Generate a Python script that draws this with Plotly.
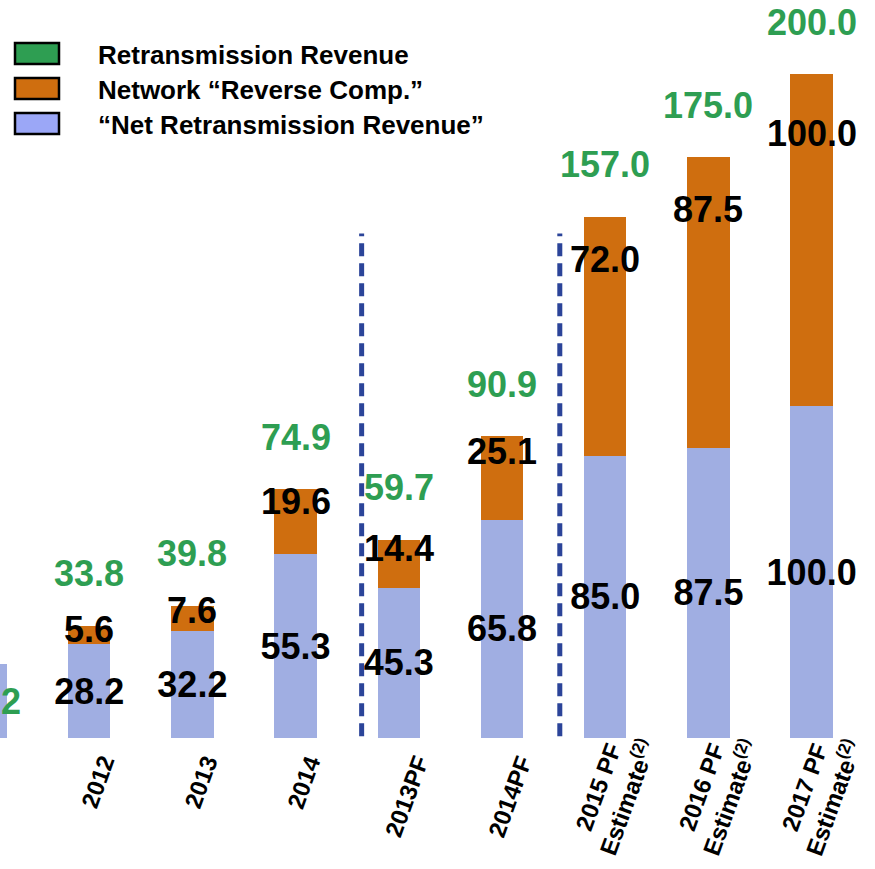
import plotly.graph_objects as go

BLUE = '#A0AEE2'
ORANGE = '#CF6E0F'
GREEN = '#2E9E52'
LEGEND_BLUE = '#9BA7F7'
DIVIDER = '#2B4499'
FONT = 'Liberation Sans, Arial, sans-serif'

years = ['2011', '2012', '2013', '2014', '2013PF', '2014PF',
         '2015 PF<br>Estimate<sup>(2)</sup>',
         '2016 PF<br>Estimate<sup>(2)</sup>',
         '2017 PF<br>Estimate<sup>(2)</sup>']
net_retrans = [22.2, 28.2, 32.2, 55.3, 45.3, 65.8, 85.0, 87.5, 100.0]
reverse_comp = [0.0, 5.6, 7.6, 19.6, 14.4, 25.1, 72.0, 87.5, 100.0]
retrans_total = [None, 33.8, 39.8, 74.9, 59.7, 90.9, 157.0, 175.0, 200.0]

legend_items = [('Retransmission Revenue', GREEN),
                ('Network “Reverse Comp.”', ORANGE),
                ('“Net Retransmission Revenue”', LEGEND_BLUE)]

W, H, PLOT_H = 875, 869, 738
idx = list(range(len(years)))

fig = go.Figure()
fig.add_bar(
    x=idx, y=net_retrans,
    marker_color=BLUE, marker_line_width=0,
    text=[f'{v:.1f}' for v in net_retrans],
    textposition='inside', insidetextanchor='middle', constraintext='none',
    textangle=0,
    textfont=dict(family=FONT, size=36,
                  color=[GREEN] + ['black'] * (len(years) - 1)),
    texttemplate='<b>%{text}</b>',
    showlegend=False,
)
fig.add_bar(
    x=idx, y=reverse_comp,
    marker_color=ORANGE, marker_line_width=0,
    showlegend=False,
)

# reverse comp labels, in the upper part of the orange segment
for i, (b, o) in enumerate(zip(net_retrans, reverse_comp)):
    if o:
        fig.add_annotation(x=i, y=b + 0.82 * o, text=f'<b>{o:.1f}</b>',
                           showarrow=False,
                           font=dict(family=FONT, size=36, color='black'))

# total retransmission labels above bars
for i, t in enumerate(retrans_total):
    if t is not None:
        fig.add_annotation(x=i, y=t, text=f'<b>{t:.1f}</b>', showarrow=False,
                           yshift=52,
                           font=dict(family=FONT, size=36, color=GREEN))

# category labels, rotated and centre aligned
for i, y in enumerate(years):
    two_line = '<br>' in y
    fig.add_annotation(x=i, y=0, text=f'<b>{y}</b>', showarrow=False,
                       textangle=-70, xanchor='center', yanchor='top',
                       xshift=8, yshift=15 if two_line else -12, align='center',
                       font=dict(family=FONT, size=24, color='black'))

# dashed dividers between actual / PF / estimate groups
for xd in (3.64, 5.56):
    fig.add_shape(type='line', xref='x', yref='y', x0=xd, x1=xd, y0=0.5, y1=152,
                  line=dict(color=DIVIDER, width=5, dash='13px,7px'))

# legend drawn by hand to get the large boxes
for k, (label, col) in enumerate(legend_items):
    top = 43 + 35 * k
    fig.add_shape(type='rect', xref='paper', yref='paper',
                  x0=15 / W, x1=59 / W,
                  y0=1 - (top + 21) / PLOT_H, y1=1 - top / PLOT_H,
                  fillcolor=col, line=dict(color='black', width=2.5))
    fig.add_annotation(xref='paper', yref='paper', x=96 / W,
                       y=1 - (top + 12) / PLOT_H, xanchor='left', yanchor='middle',
                       text=f'<b>{label}</b>', showarrow=False,
                       font=dict(family=FONT, size=26, color='black'))

fig.update_layout(
    width=W, height=H,
    margin=dict(l=0, r=0, t=0, b=H - PLOT_H),
    barmode='stack', bargap=0.59,
    plot_bgcolor='white', paper_bgcolor='white',
)
fig.update_xaxes(
    range=[0.136, 8.614], showticklabels=False,
    showgrid=False, zeroline=False, showline=False, ticks='',
)
fig.update_yaxes(range=[0, 222.3], visible=False, showgrid=False)

fig.write_html('out.html', config={'displayModeBar': False},
               post_script="document.body.style.margin='0px';")
